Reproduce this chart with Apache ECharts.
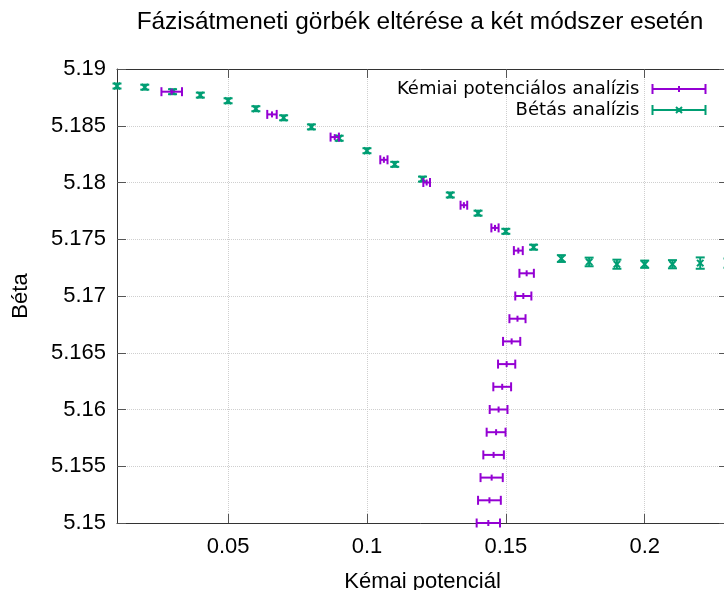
<!DOCTYPE html>
<html>
<head>
<meta charset="utf-8">
<script src="https://cdn.jsdelivr.net/npm/echarts@6/dist/echarts.min.js"></script>
<style>
html,body{margin:0;padding:0;background:#fff;}
#chart{width:724px;height:590px;}
</style>
</head>
<body>
<div id="chart"></div>
<script>
// ---- data ----
var chemX    = [0.0297, 0.0658, 0.0884, 0.1061, 0.1215, 0.1349, 0.1461, 0.1545, 0.1575, 0.1563, 0.1542, 0.1521, 0.1503, 0.1487, 0.1474, 0.1465, 0.1456, 0.1449, 0.1441, 0.1437];
var chemY    = [5.188, 5.186, 5.184, 5.182, 5.180, 5.178, 5.176, 5.174, 5.172, 5.170, 5.168, 5.166, 5.164, 5.162, 5.160, 5.158, 5.156, 5.154, 5.152, 5.150];
var chemXErr = [0.0037, 0.0017, 0.0015, 0.0013, 0.0012, 0.0012, 0.0013, 0.0016, 0.0026, 0.0029, 0.0029, 0.0031, 0.0031, 0.0032, 0.0032, 0.0034, 0.0037, 0.0040, 0.0041, 0.0042];

var betaX    = [0.01, 0.02, 0.03, 0.04, 0.05, 0.06, 0.07, 0.08, 0.09, 0.10, 0.11, 0.12, 0.13, 0.14, 0.15, 0.16, 0.17, 0.18, 0.19, 0.20, 0.21, 0.22, 0.23];
var betaY    = [5.1885, 5.1884, 5.1880, 5.1877, 5.1872, 5.1865, 5.1857, 5.1849, 5.1839, 5.1828, 5.1816, 5.1803, 5.1789, 5.1773, 5.1757, 5.1743, 5.1733, 5.1730, 5.1728, 5.1728, 5.1728, 5.1729, 5.1729];
var betaYErr = [0.00022, 0.00022, 0.00022, 0.00022, 0.00022, 0.00022, 0.00022, 0.00022, 0.00022, 0.00022, 0.00022, 0.00022, 0.00022, 0.00022, 0.00022, 0.00022, 0.0003, 0.00038, 0.0004, 0.00032, 0.00036, 0.0005, 0.0004];

var xTicks = [0.05, 0.1, 0.15, 0.2];
var titleText = 'Fázisátmeneti görbék eltérése a két módszer esetén';
var chemName = 'Kémiai potenciálos analízis';
var betaName = 'Bétás analízis';

var PURPLE = '#9400d3';
var GREEN = '#009e73';
var LW = 2;
var CAP = 4.5;

var chemData = chemX.map(function (x, i) { return [x, chemY[i], chemXErr[i]]; });
var betaData = betaX.map(function (x, i) { return [x, betaY[i], betaYErr[i]]; });

function ln(x1, y1, x2, y2, color) {
  return { type: 'line', shape: { x1: x1, y1: y1, x2: x2, y2: y2 }, style: { stroke: color, lineWidth: LW } };
}

function renderChem(params, api) {
  var x = api.value(0), y = api.value(1), e = api.value(2);
  var c = api.coord([x, y]);
  var l = api.coord([x - e, y]);
  var r = api.coord([x + e, y]);
  return {
    type: 'group',
    children: [
      ln(l[0], c[1], r[0], c[1], PURPLE),
      ln(l[0], c[1] - CAP, l[0], c[1] + CAP, PURPLE),
      ln(r[0], c[1] - CAP, r[0], c[1] + CAP, PURPLE),
      ln(c[0], c[1] - 3, c[0], c[1] + 3, PURPLE)
    ]
  };
}

function renderBeta(params, api) {
  var x = api.value(0), y = api.value(1), e = api.value(2);
  var c = api.coord([x, y]);
  var t = api.coord([x, y + e]);
  var b = api.coord([x, y - e]);
  var m = 3.2;
  return {
    type: 'group',
    children: [
      ln(c[0], t[1], c[0], b[1], GREEN),
      ln(c[0] - CAP, t[1], c[0] + CAP, t[1], GREEN),
      ln(c[0] - CAP, b[1], c[0] + CAP, b[1], GREEN),
      ln(c[0] - m, c[1] - m, c[0] + m, c[1] + m, GREEN),
      ln(c[0] - m, c[1] + m, c[0] + m, c[1] - m, GREEN)
    ]
  };
}

var FONT = 'Liberation Sans';
var chart = echarts.init(document.getElementById('chart'), null, { renderer: 'canvas' });

var axisLineStyle = { color: '#333', width: 1 };
var tickStyle = { color: '#555', width: 1 };

chart.setOption({
  animation: false,
  backgroundColor: '#fff',
  title: {
    text: titleText,
    left: 415,
    top: 5,
    textAlign: 'center',
    textStyle: { fontFamily: FONT, fontSize: 24.4, fontWeight: 'normal', color: '#000' }
  },
  legend: {
    orient: 'vertical',
    right: 11,
    top: 75,
    align: 'right',
    itemWidth: 53,
    itemHeight: 10,
    itemGap: 3,
    selectedMode: false,
    textStyle: { fontFamily: 'DejaVu Sans', fontSize: 18, color: '#000', padding: [0, 8, 0, 0] },
    data: [
      { name: chemName, icon: 'path://M0,5L53,5M0,0L0,10M53,0L53,10M26.5,2L26.5,8',
        itemStyle: { color: 'none', borderColor: PURPLE, borderWidth: 2 } },
      { name: betaName, icon: 'path://M0,5L53,5M0,0L0,10M53,0L53,10M23.5,2L29.5,8M23.5,8L29.5,2',
        itemStyle: { color: 'none', borderColor: GREEN, borderWidth: 2 } }
    ]
  },
  grid: { left: 117, right: -4, top: 69, bottom: 67, containLabel: false, outerBoundsMode: 'none' },
  xAxis: [{
    type: 'value', min: 0.01, max: 0.23, position: 'bottom',
    name: 'Kémai potenciál', nameLocation: 'middle', nameGap: 48,
    nameTextStyle: { fontFamily: FONT, fontSize: 22, color: '#000' },
    axisLine: { show: true, onZero: false, lineStyle: axisLineStyle },
    axisTick: { show: true, inside: true, length: 9, customValues: xTicks, lineStyle: tickStyle },
    axisLabel: { show: true, customValues: xTicks, margin: 13, fontFamily: FONT, fontSize: 22, color: '#000',
      formatter: function (v) { return String(+v.toFixed(4)); } },
    splitLine: { show: true, lineStyle: { color: '#cfcfcf', type: 'dotted', width: 1 } }
  }, {
    type: 'value', min: 0.01, max: 0.23, position: 'top',
    axisLine: { show: true, onZero: false, lineStyle: axisLineStyle },
    axisTick: { show: true, inside: true, length: 9, customValues: xTicks, lineStyle: tickStyle },
    axisLabel: { show: false },
    splitLine: { show: false }
  }],
  yAxis: [{
    type: 'value', min: 5.15, max: 5.19, interval: 0.005, position: 'left',
    name: 'Béta', nameLocation: 'middle', nameGap: 85, nameRotate: 90,
    nameTextStyle: { fontFamily: FONT, fontSize: 22, color: '#000' },
    axisLine: { show: true, onZero: false, lineStyle: axisLineStyle },
    axisTick: { show: true, inside: true, length: 9, lineStyle: tickStyle },
    axisLabel: { show: true, margin: 11, fontFamily: FONT, fontSize: 22, color: '#000',
      formatter: function (v) { return String(+v.toFixed(4)); } },
    splitLine: { show: true, lineStyle: { color: '#cfcfcf', type: 'dotted', width: 1 } }
  }, {
    type: 'value', min: 5.15, max: 5.19, interval: 0.005, position: 'right',
    axisLine: { show: true, onZero: false, lineStyle: axisLineStyle },
    axisTick: { show: true, inside: true, length: 9, lineStyle: tickStyle },
    axisLabel: { show: false },
    splitLine: { show: false }
  }],
  series: [{
    name: chemName,
    type: 'custom',
    xAxisIndex: 0, yAxisIndex: 0,
    clip: false,
    renderItem: renderChem,
    encode: { x: 0, y: 1 },
    itemStyle: { color: PURPLE },
    data: chemData,
    z: 3
  }, {
    name: betaName,
    type: 'custom',
    xAxisIndex: 0, yAxisIndex: 0,
    clip: false,
    renderItem: renderBeta,
    encode: { x: 0, y: 1 },
    itemStyle: { color: GREEN },
    data: betaData,
    z: 2
  }]
});
</script>
</body>
</html>
